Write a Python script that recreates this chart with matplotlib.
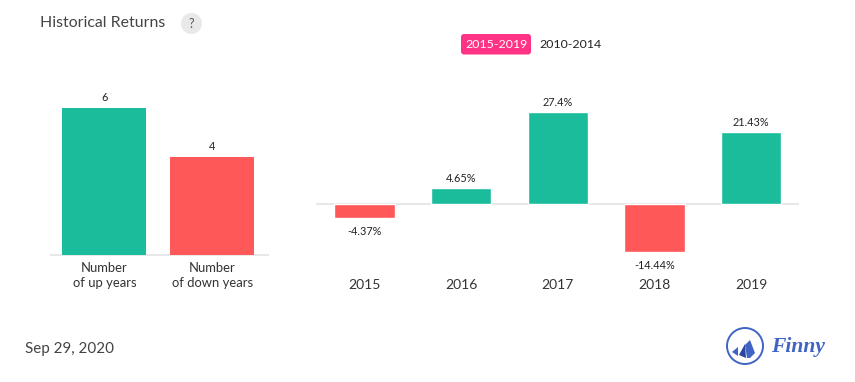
import matplotlib
matplotlib.use('Agg')
import matplotlib.pyplot as plt
from matplotlib.patches import Circle, FancyBboxPatch, Polygon

W, H = 855, 382

count_labels = ['Number\nof up years', 'Number\nof down years']
count_values = [6, 4]
years = ['2015', '2016', '2017', '2018', '2019']
returns = [-4.37, 4.65, 27.4, -14.44, 21.43]
return_labels = ['-4.37%', '4.65%', '27.4%', '-14.44%', '21.43%']

GREEN = '#1abc9c'
RED = '#ff5858'
PINK = '#ff3385'
GRID = '#e8e8e8'
BLUE = '#3f64c4'

plt.rcParams['font.family'] = ['Lato', 'Open Sans', 'DejaVu Sans']


def box(x0, y0, x1, y1):
    # pixel box, y measured from the top of the picture
    return [x0 / W, 1 - y1 / H, (x1 - x0) / W, (y1 - y0) / H]


def clean(ax):
    for s in ['top', 'left', 'right']:
        ax.spines[s].set_visible(False)
    ax.set_yticks([])
    ax.patch.set_alpha(0)


fig = plt.figure(figsize=(W / 100, H / 100), dpi=100, facecolor='white')

# left chart
ax1 = fig.add_axes(box(50.5, 60, 267.5, 255))
clean(ax1)
colors1 = [GREEN, RED]
ax1.bar(range(2), count_values, width=84 / 108, color=colors1, edgecolor='none', zorder=3)
ax1.set_xlim(-0.5, 1.51)
ax1.set_ylim(0, 195 / 24.5)
ax1.spines['bottom'].set_color(GRID)
ax1.spines['bottom'].set_linewidth(1.5)
ax1.set_xticks(range(2))
ax1.set_xticklabels(count_labels, fontsize=9.4, color='#333333', linespacing=1.32)
ax1.tick_params(axis='x', length=0, pad=5)
for i, v in enumerate(count_values):
    ax1.annotate(str(v), (i, v), xytext=(0, 3.8), textcoords='offset points',
                 ha='center', va='bottom', fontsize=7.8, color='#222222')

# right chart
ax2 = fig.add_axes(box(316.3, 59.3, 799.3, 268.3))
clean(ax2)
ppu = 91.5 / 27.4
colors2 = [GREEN if v > 0 else RED for v in returns]
ax2.axhline(0, color=GRID, lw=1.5, zorder=1)
ax2.bar(range(5), returns, width=60.5 / 96.6, color=colors2, edgecolor='white',
        linewidth=1, zorder=3)
ax2.set_xlim(-0.5, 4.5)
ax2.set_ylim(-64.5 / ppu, 144.5 / ppu)
ax2.spines['bottom'].set_visible(False)
ax2.set_xticks(range(5))
ax2.set_xticklabels(years, fontsize=10, color='#333333')
ax2.tick_params(axis='x', length=0, pad=8)
for i, v in enumerate(returns):
    off = 3.2 if v > 0 else -5.6
    ax2.annotate(return_labels[i], (i, v), xytext=(0, off), textcoords='offset points',
                 ha='center', va='bottom' if v > 0 else 'top', fontsize=7.8, color='#222222')

# header
fig.text(40 / W, 1 - 23 / H, 'Historical Returns', fontsize=11.45, color='#444444', va='center')
over = fig.add_axes([0, 0, 1, 1])
over.set_xlim(0, W)
over.set_ylim(H, 0)
over.axis('off')
over.add_patch(Circle((191.5, 23.5), 10.5, fc='#e9e9e9', ec='none'))
over.text(191.5, 23.5, '?', fontsize=9, color='#555555', ha='center', va='center')

# period buttons
over.add_patch(FancyBboxPatch((461, 34), 70, 20.5, boxstyle='round,pad=0,rounding_size=3',
                              fc=PINK, ec='none'))
over.text(496, 44.5, '2015-2019', fontsize=8.9, color='white', ha='center', va='center')
over.text(570, 44.5, '2010-2014', fontsize=8.9, color='#222222', ha='center', va='center')

# date
over.text(25, 348.5, 'Sep 29, 2020', fontsize=10.9, color='#444444', va='center')

# logo
over.add_patch(Circle((745, 346), 18, fc='none', ec=BLUE, lw=1.4))
over.add_patch(Polygon([[732, 352], [738, 347], [738, 356]], fc=BLUE, ec='none'))
over.add_patch(Polygon([[739, 355], [745, 344], [746, 358]], fc='#27479f', ec='none'))
over.add_patch(Polygon([[745, 345], [750, 340], [755, 353], [750, 358], [747, 358]], fc=BLUE, ec='none'))
over.text(798, 347, 'Finny', fontsize=15.5, color=BLUE, style='italic', weight='bold',
          family=['Liberation Serif', 'DejaVu Serif'], ha='center', va='center')

fig.savefig('out.png', dpi=100)
